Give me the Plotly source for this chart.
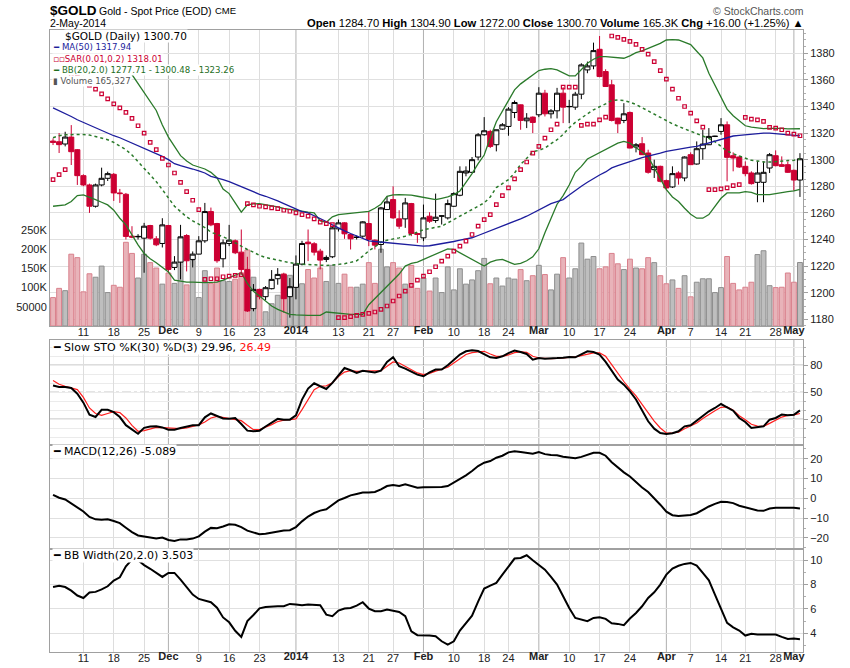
import pandas as pd
import plotly.graph_objects as go

# trading days on the chart
holidays = ['2013-11-28', '2013-12-25', '2014-01-01', '2014-01-20', '2014-02-17', '2014-04-18']
days = [d for d in pd.bdate_range('2013-11-04', '2014-05-02').strftime('%Y-%m-%d') if d not in holidays]

week_days = ['2013-11-11', '2013-11-18', '2013-11-25', '2013-12-09', '2013-12-16', '2013-12-23',
             '2014-01-13', '2014-01-21', '2014-01-27', '2014-02-10', '2014-02-18', '2014-02-24',
             '2014-03-10', '2014-03-17', '2014-03-24', '2014-04-07', '2014-04-14', '2014-04-21', '2014-04-28']
week_text = ['11', '18', '25', '9', '16', '23', '13', '21', '27', '10', '18', '24',
             '10', '17', '24', '7', '14', '21', '28']
month_days = ['2013-12-02', '2014-01-02', '2014-02-03', '2014-03-03', '2014-04-01', '2014-05-01']
month_text = ['Dec', '2014', 'Feb', 'Mar', 'Apr', 'May']

opens = [1314, 1313.5, 1311.8, 1317, 1307.5, 1288, 1281, 1265, 1281, 1286,
         1289, 1275, 1274, 1242.5, 1242, 1241, 1250.5, 1240.5, 1237, 1250.5,
         1219, 1223, 1243, 1225, 1229, 1239, 1261, 1252, 1225.5, 1237,
         1239, 1230.5, 1217.5, 1188, 1202.5, 1197, 1203, 1210.5, 1213.75, 1197,
         1204, 1221.5, 1238, 1236.8, 1231.25, 1225, 1227, 1248, 1252.5, 1243.75,
         1241.5, 1242.5, 1252, 1239.5, 1236.25, 1262.5, 1270, 1255.5, 1255.5, 1267,
         1244.5, 1241.25, 1257.5, 1254.25, 1257.5, 1256.25, 1265, 1273.25, 1290, 1290.5,
         1302, 1318.75, 1321.25, 1311.25, 1323, 1325, 1335.5, 1341.25, 1329.25, 1332,
         1333.75, 1350, 1334.5, 1336.75, 1350, 1339.8, 1339.5, 1349.25, 1367.5, 1370.5,
         1383, 1366.25, 1356.25, 1331.25, 1329.5, 1335.5, 1309.5, 1312, 1305, 1292.5,
         1295, 1284.25, 1279.5, 1290, 1286.25, 1303.75, 1296.75, 1308.25, 1311.25, 1317.5,
         1321.25, 1326.25, 1303, 1302, 1295, 1290, 1283, 1283, 1293.75, 1303,
         1296.25, 1296.25, 1292, 1284.7]
highs = [1316, 1320, 1321, 1326, 1308, 1289, 1282, 1282, 1294, 1291,
         1290, 1278, 1275, 1250, 1244, 1252.5, 1251, 1242.5, 1256, 1251,
         1227.5, 1251, 1244, 1231, 1242.5, 1267.5, 1264, 1252.5, 1240, 1251,
         1240, 1247.5, 1227, 1206.5, 1203, 1205, 1217, 1218.5, 1215, 1211,
         1228, 1239, 1247.5, 1238, 1233, 1228, 1250, 1255, 1253, 1244,
         1243, 1253.75, 1261, 1240, 1264.5, 1272.5, 1280, 1262, 1271.25, 1267.5,
         1245, 1266.25, 1260.5, 1274.5, 1258, 1270, 1275.5, 1295, 1295, 1302,
         1320, 1332, 1322.5, 1322.5, 1327.5, 1339.5, 1344.5, 1341.5, 1335, 1332.5,
         1354.5, 1352.5, 1338, 1354, 1354.5, 1345, 1351, 1372.5, 1373.75, 1388,
         1393, 1368, 1360, 1331.5, 1342.5, 1336.25, 1312.5, 1317, 1307.5, 1300,
         1295.5, 1285, 1295, 1291.25, 1302.5, 1305.5, 1313.75, 1322.5, 1323.75, 1318,
         1331.25, 1328.75, 1305.5, 1303, 1298.75, 1291.25, 1298.75, 1298.75, 1305, 1307,
         1302.5, 1298.75, 1292.5, 1304.9]
lows = [1311, 1305, 1310, 1296, 1281, 1280, 1260, 1264, 1280, 1284,
        1269, 1267.5, 1240, 1241, 1240, 1215, 1240, 1235, 1234, 1215,
        1217, 1210, 1216, 1219, 1229, 1237.5, 1250, 1222.5, 1219, 1235,
        1229, 1213.75, 1185.5, 1186, 1195, 1194.5, 1202.5, 1206, 1185, 1181.25,
        1195, 1220.5, 1223.75, 1228, 1217.5, 1223, 1226, 1246, 1240.5, 1232.5,
        1240, 1241.25, 1235, 1232.5, 1230, 1262.5, 1255.5, 1248, 1248.75, 1242.5,
        1237.5, 1238.75, 1252.5, 1252.5, 1251.25, 1255, 1264.5, 1272.5, 1287.5, 1290,
        1299.5, 1318, 1308.75, 1306.25, 1322.5, 1318, 1331.25, 1322.5, 1323.75, 1320,
        1332, 1332.5, 1331, 1331, 1327.5, 1327.5, 1337.5, 1345.5, 1365, 1368,
        1362, 1355, 1328.75, 1320, 1327.5, 1308.5, 1305.5, 1303.5, 1289.5, 1286.25,
        1283, 1277, 1278.75, 1281.25, 1283.75, 1296, 1296.25, 1300, 1311, 1317,
        1318.75, 1283.75, 1291.25, 1293.75, 1287.5, 1281.25, 1268, 1268, 1290, 1295,
        1294.5, 1290, 1276.75, 1272]
closes = [1313, 1311.3, 1317, 1306, 1288, 1281, 1265, 1281, 1286, 1289.5,
          1275, 1274.5, 1242.3, 1241.8, 1242.3, 1250, 1241, 1236, 1251, 1217.5,
          1223, 1242, 1224, 1229, 1239, 1261, 1251, 1224, 1237.5, 1239.5,
          1230, 1217.5, 1186.25, 1202.5, 1197, 1203.75, 1210, 1213.75, 1195.5, 1204.5,
          1221.5, 1237, 1236.8, 1230.5, 1224.5, 1226.5, 1248.75, 1252.5, 1244.25, 1240.5,
          1241.75, 1253.25, 1240, 1235.75, 1263.75, 1268.25, 1256.25, 1250, 1267.5, 1244.5,
          1243.75, 1256.25, 1253.75, 1256.75, 1257.75, 1267, 1274.5, 1291.25, 1291.5, 1300,
          1318.75, 1321.75, 1310, 1322.5, 1326.25, 1338, 1343, 1329.5, 1331.25, 1328,
          1350, 1334.5, 1336.75, 1350, 1339.5, 1340, 1349.25, 1371.25, 1370.5, 1382,
          1362.5, 1355, 1329.5, 1327, 1334.5, 1308.75, 1311.25, 1303.75, 1290.5, 1295,
          1283.75, 1278.75, 1289.5, 1286.25, 1302, 1296.25, 1308.25, 1311.75, 1317.5, 1317.6,
          1326.25, 1301.75, 1301.25, 1294.5, 1289.5, 1282, 1290, 1290.5, 1303.75, 1295.5,
          1295, 1290.5, 1284.7, 1300.7]
volume = [74000, 98000, 92000, 187000, 178000, 89000, 136000, 127000, 156000, 87000,
          106000, 101000, 218000, 189000, 125000, 187000, 165000, 151000, 109000, 138000,
          111000, 167000, 107000, 171000, 74000, 144000, 111000, 151000, 118000, 116000,
          122000, 134000, 198000, 127000, 94000, 37000, 58000, 80000, 136000, 132000,
          110000, 110000, 147000, 125000, 151000, 116000, 158000, 111000, 135000, 101000,
          101000, 109000, 165000, 111000, 200000, 154000, 165000, 151000, 109000, 158000,
          98000, 125000, 91000, 125000, 87000, 154000, 94000, 149000, 109000, 120000,
          144000, 176000, 110000, 125000, 104000, 125000, 122000, 147000, 118000, 131000,
          158000, 134000, 94000, 135000, 178000, 125000, 149000, 216000, 174000, 181000,
          149000, 154000, 189000, 162000, 147000, 174000, 151000, 149000, 178000, 165000,
          131000, 110000, 120000, 98000, 131000, 76000, 114000, 123000, 123000, 87000,
          100000, 181000, 111000, 94000, 101000, 114000, 186000, 196000, 105000, 100000,
          101000, 138000, 114000, 165327]

ma50 = [1339, 1337, 1334.5, 1332.5, 1330, 1328, 1325.5, 1323.5, 1321.5, 1319.5,
        1318, 1316.5, 1314.5, 1312.5, 1310.5, 1309, 1307, 1304.5, 1302.5, 1300,
        1297, 1295.5, 1294.5, 1293, 1291.5, 1290, 1287.5, 1286.5, 1285, 1283.5,
        1281.5, 1279.5, 1277.5, 1275.5, 1274, 1272.5, 1271, 1269, 1267, 1265,
        1263, 1261, 1260, 1258, 1256, 1253.5, 1251, 1248.5, 1246.5, 1244.5,
        1242.5, 1241, 1239, 1238.5, 1238, 1237.5, 1237, 1236.8, 1236.3, 1236,
        1235.5, 1235, 1235.3, 1236, 1236.7, 1237.5, 1238.5, 1239.5, 1240.5, 1241.3,
        1243, 1244.8, 1246.5, 1248.3, 1250, 1251.5, 1253.5, 1255.5, 1257.5, 1260,
        1262.5, 1264.5, 1267, 1268.5, 1270, 1273.5, 1277, 1280, 1283, 1286,
        1288.5, 1290.8, 1293.8, 1295.5, 1297.2, 1298.8, 1300, 1301.5, 1302.5, 1303.8,
        1305, 1306.3, 1307.2, 1308, 1308.8, 1309.4, 1310, 1311.3, 1312.7, 1314.2,
        1315.6, 1317, 1317.8, 1318.3, 1318.8, 1319.2, 1319.6, 1320, 1320, 1319.6,
        1319.2, 1318.7, 1318.2, 1317.94]
sar = [1285, 1288.75, 1292.5, 1364, 1362, 1359, 1356, 1353, 1349.5, 1345.7,
       1342, 1339, 1335.5, 1331, 1325.5, 1320, 1313, 1307.5, 1301, 1296,
       1290, 1283, 1276, 1269.5, 1262.5, 1210, 1210.5, 1210.5, 1212, 1212.5,
       1213, 1213.5, 1267, 1266, 1265, 1264.5, 1263.75, 1263.25, 1262, 1261.25,
       1260, 1258.75, 1257.5, 1255.5, 1253, 1252, 1251.25, 1181.25, 1181.25, 1182,
       1183, 1183.75, 1184.5, 1185.5, 1187.5, 1190, 1193.75, 1197.5, 1201.25, 1205.5,
       1209.5, 1212.5, 1215.75, 1219.5, 1223.75, 1227.5, 1231.25, 1235, 1238.75, 1243.75,
       1250, 1255, 1258.75, 1266.25, 1273, 1278.75, 1285.5, 1292.5, 1298.25, 1305,
       1310, 1316.25, 1322.5, 1326.75, 1354.5, 1354.5, 1354.5, 1325.75, 1326.75, 1326.75,
       1330, 1332, 1393, 1392, 1390.5, 1389, 1386.7, 1383, 1379.3, 1373.7,
       1367, 1360.5, 1353, 1346.2, 1340, 1335, 1329.25, 1324.5, 1277.5, 1277.5,
       1278, 1278.75, 1280.5, 1281.25, 1331.75, 1330.5, 1330, 1328.75, 1324.25, 1323.75,
       1322.5, 1320, 1319.25, 1318.01]
bb_upper = [1367, 1368, 1368.5, 1369, 1369, 1369, 1369, 1369, 1368.5, 1368,
            1367.5, 1367, 1366, 1364, 1357, 1350, 1343, 1337, 1326, 1317,
            1310, 1303, 1299, 1296, 1294.5, 1293, 1290.5, 1286.5, 1278, 1274.5,
            1267.5, 1260.5, 1266, 1266.8, 1267, 1266.3, 1265.2, 1264.5, 1263.3, 1262.5,
            1261.8, 1261.3, 1260.5, 1260, 1254, 1253, 1257, 1258.75, 1259.2, 1259.8,
            1260.3, 1260.8, 1261.2, 1263.5, 1266.5, 1272.5, 1273.5, 1273.75, 1273.75, 1273.3,
            1272.5, 1271.5, 1270.5, 1270, 1271, 1272, 1273.75, 1276.5, 1283, 1289.5,
            1297, 1303.5, 1316.5, 1328.5, 1336.5, 1345, 1352.5, 1357, 1360.5, 1364,
            1367, 1368, 1368.5, 1367.5, 1365.5, 1363, 1363, 1368, 1372.5, 1375.5,
            1377.5, 1377.5, 1377, 1376.5, 1376.25, 1378, 1380.5, 1381.8, 1383.5, 1385.5,
            1387.5, 1390, 1390.3, 1390, 1388.5, 1386.5, 1381.5, 1376.5, 1365, 1356,
            1348, 1338, 1333, 1329, 1325.5, 1324.5, 1324, 1323.3, 1323.5, 1323.75,
            1323.5, 1323.2, 1323, 1323.26]
bb_mid = [1316.5, 1318, 1318.75, 1319, 1319.25, 1319, 1318.5, 1317.5, 1316.5, 1315,
          1313, 1310.5, 1307.5, 1303.5, 1298.5, 1293.5, 1288, 1283.5, 1277.5, 1271.5,
          1265, 1261, 1257, 1254, 1251.5, 1249, 1245.5, 1244, 1242, 1240,
          1237.5, 1234.5, 1232.5, 1230.5, 1228, 1226.5, 1225.5, 1224, 1223, 1222.5,
          1222, 1221.3, 1221.2, 1221, 1220.6, 1220.5, 1220.8, 1221.2, 1221.8, 1222.8,
          1224, 1227.5, 1231.5, 1234.5, 1238, 1239.5, 1240.3, 1241.2, 1242.5, 1243.8,
          1245.5, 1247.3, 1248.2, 1249.2, 1250, 1252.5, 1255, 1258, 1260.5, 1262.5,
          1265, 1267.5, 1272, 1279, 1282, 1285, 1290, 1296.5, 1301, 1306,
          1307, 1308.75, 1312, 1315, 1319, 1324, 1328, 1331.5, 1334.5, 1337.5,
          1339.5, 1342, 1344.5, 1344.8, 1344.5, 1343.3, 1341.5, 1339, 1336.5, 1334,
          1331.5, 1329, 1327, 1325, 1323.2, 1321.5, 1320, 1318, 1316, 1313.5,
          1310, 1306.5, 1304.5, 1303, 1301, 1299.5, 1299, 1298.3, 1298.2, 1298.75,
          1299, 1299.3, 1299.5, 1300.48]
bb_lower = [1265, 1265.3, 1266, 1268.5, 1273, 1273.5, 1272, 1270, 1268, 1266,
            1262, 1256, 1251, 1243, 1236, 1229.5, 1225.5, 1222.5, 1219, 1215.5,
            1209.5, 1208.5, 1208, 1208, 1207.5, 1207.5, 1207.8, 1208, 1209.5, 1211.5,
            1213.5, 1215, 1207, 1201, 1197.5, 1194, 1190, 1187.5, 1185.5, 1183.75,
            1183.3, 1183, 1183, 1183, 1183, 1185.5, 1185, 1184.5, 1184, 1183.75,
            1183.75, 1183.75, 1191, 1195.5, 1200, 1205, 1209.5, 1214, 1220, 1222,
            1223, 1225, 1227.5, 1229.5, 1231.25, 1233, 1232.5, 1230, 1227.5, 1225.5,
            1222.5, 1220, 1223, 1224.5, 1225, 1223, 1221.25, 1222, 1224, 1227,
            1233, 1245, 1256, 1266.5, 1273, 1281, 1290.5, 1295, 1300.5, 1303,
            1305, 1307.5, 1310, 1312.5, 1313.75, 1312.5, 1309, 1306, 1302, 1294,
            1285, 1277.5, 1272, 1268.5, 1263.5, 1259, 1256, 1256, 1258.75, 1265,
            1271, 1275, 1275, 1275, 1276, 1275.5, 1273.75, 1273.5, 1273.75, 1274.5,
            1275.5, 1276, 1276.5, 1277.71]

sto_k = [57.5, 55.9, 55.9, 54.8, 48.5, 38.5, 25, 22.6, 30.5, 30.5,
         28, 22.5, 13.5, 8.5, 4, 10.5, 12, 12.2, 11, 8.5,
         8.5, 10.4, 12.2, 13.3, 13.5, 22.2, 26.5, 24, 21, 20.7,
         21.5, 14.8, 7.4, 6.7, 7.4, 12, 16.5, 20.5, 19.6, 19.6,
         24.4, 41.9, 54.1, 60, 56.7, 53.7, 60.4, 68.9, 77, 74.5,
         71.5, 74, 73.3, 72, 74.1, 83.7, 88.9, 79, 76.3, 72.6,
         69.6, 67.8, 72.2, 75.2, 75.2, 80, 86, 91.9, 95.6, 96.7,
         95.8, 92.5, 88.9, 88.1, 90, 93.5, 96.3, 94.8, 92.6, 86.3,
         88.1, 87.4, 87.4, 88, 88.5, 89.3, 88.9, 92.6, 95.6, 94.8,
         91.9, 83.7, 73.3, 64.1, 58.5, 51.1, 42, 29, 17.8, 9.6,
         4.8, 3.7, 4.5, 6.7, 12.2, 13.3, 18.5, 23.3, 28.9, 32.6,
         37, 33.3, 29.6, 21.5, 17, 10.4, 11.1, 12.2, 19.6, 21.5,
         25.2, 24.4, 25, 29.96]
sto_d = [63, 59, 56.7, 54.5, 53, 44.4, 32.6, 26.5, 24.4, 26.5,
         28.5, 27.5, 21.5, 13.3, 6.7, 7.4, 9.6, 11.1, 10.8, 10.4,
         9.8, 9.6, 10.4, 12, 13.8, 17, 21.5, 23.3, 22, 21.5,
         20, 18.5, 13.3, 8.5, 8.5, 11, 14.1, 17.5, 19, 19.6,
         20.4, 30.7, 41.9, 53, 56.7, 57.2, 60.5, 67.5, 72.5, 74,
         73.3, 73.3, 73.3, 73.3, 74, 78.9, 83.7, 82.6, 78.9, 74.4,
         71.5, 69.6, 71, 73.5, 75.5, 77.8, 82.6, 87.5, 92, 94,
         95, 95.6, 92.6, 90, 90, 91.5, 94, 94.8, 94.4, 90,
         88.1, 87.5, 87.4, 87.8, 88.1, 88.8, 89.3, 90.8, 92.5, 93.7,
         93.7, 90, 80.7, 71, 62, 53.5, 46, 36.5, 27, 18,
         10.4, 4.8, 4.8, 5.6, 9.5, 12.5, 15.9, 21, 25.5, 29.5,
         33.3, 33.7, 30, 24, 19.6, 14.5, 12.5, 12.2, 15.5, 19,
         22.5, 24.4, 25, 26.49]
macd = [1.8, 0.3, -0.6, -2.5, -4.5, -6.6, -9.4, -10.6, -10.8, -10.6,
        -11.4, -12.5, -14.8, -17, -18.7, -19.2, -19.8, -20.2, -19.8, -21,
        -21.5, -20.7, -20.7, -20.3, -19.2, -16.8, -14.9, -15.1, -14.2, -13.1,
        -13.3, -14.5, -16.3, -17.4, -18.1, -17.9, -17.4, -16.6, -16.2, -16.1,
        -14.5, -11.6, -9.2, -7.4, -6.2, -5.5, -3.3, -1, 0.2, 1.5,
        2.2, 2.9, 2.9, 3.2, 4.5, 6.2, 6.7, 6.2, 7.1, 6.2,
        5.4, 5.6, 5.7, 5.7, 5.7, 6.2, 7.9, 9.8, 11.6, 13.8,
        16.3, 18, 18.8, 20.5, 21.5, 23.2, 23.8, 23.4, 23, 22.5,
        23.4, 22.3, 21.9, 21.7, 21, 20.6, 20.2, 20.9, 22, 23,
        23, 21.5, 18.2, 15.5, 13.1, 11, 8, 5.5, 3.2, 0.2,
        -3.2, -6.7, -8.5, -8.9, -8.5, -8.4, -7.5, -5.7, -4.1, -2.8,
        -1.7, -1.8, -2.4, -3.7, -4.6, -5.5, -6.1, -6.3, -5.1, -4.7,
        -4.7, -5, -4.8, -5.089]
bbw = [7.8, 7.9, 7.8, 7.5, 7.1, 6.9, 7.35, 7.4, 7.6, 7.86,
       8.33, 8.6, 9.5, 10.05, 10, 9.6, 9.3, 9, 8.63, 8.96,
       8.96, 8.41, 7.78, 7.18, 6.82, 6.68, 6.55, 6.1, 5.3, 4.9,
       4.2, 3.7, 5, 5.5, 6.05, 6.16, 6.22, 6.22, 6.22, 6.41,
       6.36, 6.3, 6.36, 6.36, 6.3, 5.53, 5.4, 5.86, 6.03, 6.08,
       6.27, 6.55, 6.03, 5.81, 5.81, 5.95, 5.88, 5.75, 5.4, 4.16,
       3.84, 3.85, 3.82, 3.75, 3.34, 3.07, 3.34, 4.22, 4.85, 5.45,
       6.6, 7.67, 7.92, 8.14, 8.82, 9.5, 10.14, 10.19, 10.41, 10,
       9.64, 9.23, 8.63, 8, 7.04, 6.08, 5.26, 5.12, 4.99, 5.26,
       5.32, 5.18, 4.82, 4.77, 4.66, 5.21, 5.67, 6.22, 6.9, 7.37,
       8, 8.82, 9.32, 9.55, 9.7, 9.78, 9.56, 8.96, 8.35, 7.18,
       5.95, 4.85, 4.49, 4.22, 3.81, 3.95, 3.89, 3.89, 3.89, 3.89,
       3.7, 3.53, 3.56, 3.503]

# page pixel positions -> paper coords (body margin is removed in the page, see write_html)
W, H = 850, 668
ML, MR, MT, MB = 50, 47, 30, 16
def px(x):
    return (x - ML) / (W - ML - MR)
def py(y):
    return (H - MB - y) / (H - MT - MB)

dom_main = [py(326), 1]
dom_sto = [py(444.7), py(340)]
dom_macd = [py(548.7), py(444.7)]
dom_bbw = [0, py(548.7)]

RED = '#CC0033'
GREEN = '#2A7A2A'
NAVY = '#1C1C9C'
TXT = 'DejaVu Sans'
AX = 'Liberation Sans, Arial'

fig = go.Figure()

up = [c >= o for o, c in zip(opens, closes)]
fig.add_trace(go.Bar(x=days, y=volume, width=0.8, xaxis='x', yaxis='y',
                     marker=dict(color=['#BEBEBE' if u else '#E8B3B9' for u in up],
                                 line=dict(color=['#8E8E8E' if u else '#D9808C' for u in up], width=1))))
fig.add_trace(go.Candlestick(x=days, open=opens, high=highs, low=lows, close=closes,
                             xaxis='x', yaxis='y2', whiskerwidth=0,
                             increasing=dict(line=dict(color='black', width=1), fillcolor='white'),
                             decreasing=dict(line=dict(color=RED, width=1), fillcolor=RED)))
fig.add_trace(go.Scatter(x=days, y=bb_upper, mode='lines', line=dict(color=GREEN, width=1.3), xaxis='x', yaxis='y2'))
fig.add_trace(go.Scatter(x=days, y=bb_lower, mode='lines', line=dict(color=GREEN, width=1.3), xaxis='x', yaxis='y2'))
fig.add_trace(go.Scatter(x=days, y=bb_mid, mode='lines', line=dict(color=GREEN, width=1.5, dash='dot'), xaxis='x', yaxis='y2'))
fig.add_trace(go.Scatter(x=days, y=ma50, mode='lines', line=dict(color=NAVY, width=1.3), xaxis='x', yaxis='y2'))
fig.add_trace(go.Scatter(x=days, y=sar, mode='markers', xaxis='x', yaxis='y2',
                         marker=dict(symbol='square-open', size=3.5, color=RED, line=dict(color=RED, width=1.2))))

fig.add_trace(go.Scatter(x=days, y=sto_d, mode='lines', line=dict(color='#FF2020', width=1.2), xaxis='x2', yaxis='y3'))
fig.add_trace(go.Scatter(x=days, y=sto_k, mode='lines', line=dict(color='black', width=2), xaxis='x2', yaxis='y3'))
fig.add_trace(go.Scatter(x=days, y=macd, mode='lines', line=dict(color='black', width=2), xaxis='x3', yaxis='y4'))
fig.add_trace(go.Scatter(x=days, y=bbw, mode='lines', line=dict(color='black', width=2), xaxis='x4', yaxis='y5'))

# bold month labels live on their own overlaying axes (same category positions)
for xa, ya in [('x5', 'y'), ('x6', 'y5')]:
    fig.add_trace(go.Scatter(x=days, y=[None] * len(days), mode='lines', xaxis=xa, yaxis=ya, hoverinfo='skip'))

tickfont = dict(family=AX, size=11, color='#222')
xcommon = dict(type='category', categoryorder='array', categoryarray=days, range=[-0.5, len(days) - 0.5],
               tickvals=week_days, ticktext=week_text, showgrid=True, gridcolor='#DDDDDD',
               showline=True, linecolor='#A0A0A0', mirror=True, ticks='', zeroline=False, automargin=False,
               tickfont=tickfont, fixedrange=True)
xmonth = dict(type='category', categoryorder='array', categoryarray=days, range=[-0.5, len(days) - 0.5],
              tickvals=month_days, ticktext=month_text, showgrid=False, showline=False, ticks='',
              zeroline=False, automargin=False, side='bottom', ticklabelstandoff=-4,
              tickfont=dict(tickfont, weight='bold'), fixedrange=True)
ycommon = dict(side='right', showline=True, linecolor='#A0A0A0', mirror=True, zeroline=False,
               ticks='outside', ticklen=4, tickcolor='#A0A0A0', gridcolor='#E0E0E0', automargin=False,
               tickfont=tickfont, fixedrange=True)

fig.update_layout(
    width=W, height=H, margin=dict(l=ML, r=MR, t=MT, b=MB),
    paper_bgcolor='white', plot_bgcolor='white', showlegend=False, hovermode=False,
    boxgap=0.12, boxgroupgap=0.05,
    xaxis=dict(xcommon, anchor='y', rangeslider=dict(visible=False), showticklabels=True, ticklabelstandoff=-4),
    xaxis2=dict(xcommon, anchor='y3', matches='x', showticklabels=False),
    xaxis3=dict(xcommon, anchor='y4', matches='x', showticklabels=False),
    xaxis4=dict(xcommon, anchor='y5', matches='x', showticklabels=True, ticklabelstandoff=-4),
    xaxis5=dict(xmonth, anchor='y', overlaying='x'),
    xaxis6=dict(xmonth, anchor='y5', overlaying='x4'),
    yaxis=dict(domain=dom_main, side='left', range=[0, 250000 * 296 / 96], showgrid=False,
               showline=True, linecolor='#A0A0A0', zeroline=False, ticks='', automargin=False,
               tickvals=[50000, 100000, 150000, 200000, 250000],
               ticktext=['50000', '100K', '150K', '200K', '250K'],
               tickfont=tickfont, fixedrange=True),
    yaxis2=dict(ycommon, overlaying='y', anchor='x', range=[1174.96, 1397.5], dtick=20, tick0=1180,
                mirror=False, showgrid=True,
                minor=dict(dtick=5, tick0=1180, ticks='outside', ticklen=2, tickcolor='#B0B0B0', showgrid=False)),
    yaxis3=dict(ycommon, domain=dom_sto, anchor='x2', range=[-8.2, 108.1], tickvals=[20, 50, 80],
                showgrid=False,
                minor=dict(dtick=10, tick0=0, showgrid=True, gridcolor='#EBEBEB', ticks='outside', ticklen=2,
                           tickcolor='#B0B0B0')),
    yaxis4=dict(ycommon, domain=dom_macd, anchor='x3', range=[-25.4, 27.06], tickvals=[-20, -10, 0, 10, 20],
                showgrid=True,
                minor=dict(dtick=5, tick0=0, ticks='outside', ticklen=2, tickcolor='#B0B0B0', showgrid=False)),
    yaxis5=dict(ycommon, domain=dom_bbw, anchor='x4', range=[2.46, 10.95], tickvals=[4, 6, 8, 10],
                showgrid=True,
                minor=dict(dtick=1, tick0=0, ticks='outside', ticklen=2, tickcolor='#B0B0B0', showgrid=False)),
)

# darker month lines in every panel
shapes = []
for dom in [dom_main, dom_sto, dom_macd, dom_bbw]:
    for m in month_days:
        k = days.index(m)
        shapes.append(dict(type='line', xref='x', yref='paper', x0=k, x1=k, y0=dom[0], y1=dom[1],
                           line=dict(color='#B0B0B0', width=1), layer='between'))
for lvl, dash in [(80, 'solid'), (20, 'solid'), (50, 'dashdot')]:
    shapes.append(dict(type='line', xref='paper', yref='y3', x0=0, x1=1, y0=lvl, y1=lvl,
                       line=dict(color='#555' if dash == 'solid' else '#777', width=1, dash=dash), layer='between'))
fig.update_layout(shapes=shapes)

last = pd.Timestamp(days[-1])
chg = closes[-1] - closes[-2]
header = (f"<b>Open</b> {opens[-1]:.2f} <b>High</b> {highs[-1]:.2f} <b>Low</b> {lows[-1]:.2f} "
          f"<b>Close</b> {closes[-1]:.2f} <b>Volume</b> {volume[-1] / 1000:.1f}K "
          f"<b>Chg</b> {chg:+.2f} ({chg / closes[-2] * 100:+.2f}%) ▲")

ann = [
    dict(x=px(48), y=py(10), text='<b>$GOLD</b>', font=dict(family=AX, size=13.5, color='black'), xanchor='left'),
    dict(x=px(97), y=py(10.5), text='Gold - Spot Price (EOD)', font=dict(family=AX, size=10.5, color='black'), xanchor='left'),
    dict(x=px(213), y=py(11), text='CME', font=dict(family=AX, size=9.5, color='black'), xanchor='left'),
    dict(x=px(48), y=py(23), text=f"{last.day}-{last:%b-%Y}", font=dict(family=AX, size=10.5, color='black'), xanchor='left'),
    dict(x=px(806), y=py(23), text=header, font=dict(family=AX, size=11.2, color='black'), xanchor='right'),
    dict(x=px(806), y=py(10.5), text='© StockCharts.com', font=dict(family=AX, size=10.5, color='#555'), xanchor='right'),
]
rows = [
    (36, 64, f"$GOLD (Daily) {closes[-1]:.2f}", 'black', 10.5),
    (47, 52, f"━ MA(50) {ma50[-1]:.2f}", NAVY, 8.6),
    (58.5, 52, f"▫▫SAR(0.01,0.2) {sar[-1]:.2f}", RED, 8.6),
    (70, 52, f"━ BB(20,2.0) {bb_lower[-1]:.2f} - {bb_mid[-1]:.2f} - {bb_upper[-1]:.2f}", '#1E6E1E', 8.6),
    (80.5, 52, f"▮ Volume {volume[-1]:,}", '#555', 8.6),
    (347, 52, f"━ Slow STO %K(30) %D(3) {sto_k[-1]:.2f}, <span style='color:#FF1010'>{sto_d[-1]:.2f}</span>", 'black', 11),
    (451.5, 52, f"━ MACD(12,26) {macd[-1]:.3f}", 'black', 11),
    (555.5, 52, f"━ BB Width(20,2.0) {bbw[-1]:.3f}", 'black', 11),
]
for y, x, text, color, size in rows:
    ann.append(dict(x=px(x), y=py(y), text=text, xanchor='left', bgcolor='white', borderpad=0,
                    font=dict(family=TXT, size=size, color=color)))
for a in ann:
    a.update(xref='paper', yref='paper', yanchor='middle', showarrow=False)
fig.update_layout(annotations=ann)

# drop the default 8px body margin so the 850x668 figure fills the window exactly
fig.write_html("out.html", config={'displayModeBar': False},
               post_script="document.body.style.margin = '0px';")
